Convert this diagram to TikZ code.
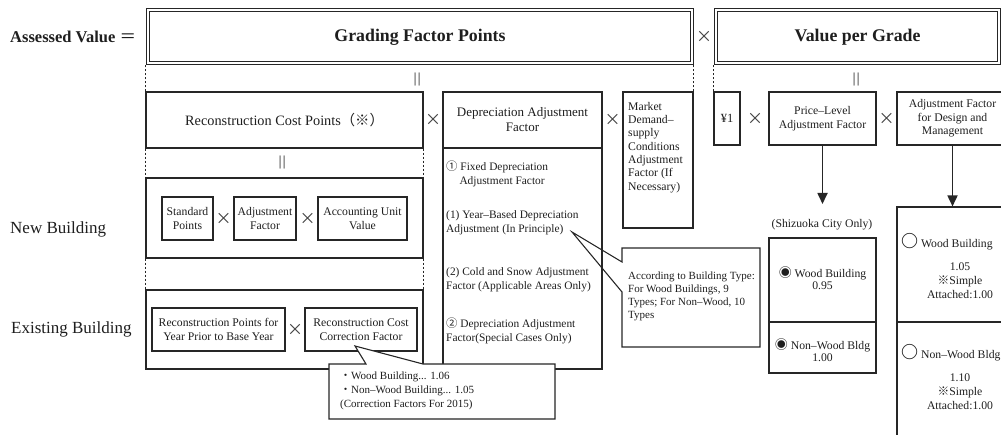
\documentclass[tikz,border=0pt]{standalone}
\usepackage{fontspec}
\setmainfont{Liberation Serif}
\newfontfamily\cjk{Noto Sans CJK JP}
\usetikzlibrary{arrows.meta}
\newcommand\sym[1]{{\cjk #1}}
\newcommand\fsz[2]{\fontsize{#1}{#2}\selectfont}
\definecolor{ink}{HTML}{1E1E1E}
\definecolor{rule}{HTML}{262626}

\begin{document}
\begin{tikzpicture}[x=1pt,y=-1pt,
  every node/.style={text=ink},
  box/.style={draw=rule, line width=1.1pt, inner sep=2pt, align=center},
  dblbox/.style={draw=rule, line width=1pt, double, double distance=2pt, align=center},
  times/.style={font=\cjk\fsz{16}{16}, text=ink!85},
  eqv/.style={font=\cjk\fsz{18}{18}, text=ink!60, rotate=90},
  dots/.style={draw=rule, line width=1.1pt, dash pattern=on 2.4pt off 1.6pt},
  arr/.style={draw=rule, line width=1.7pt, -{Triangle[width=10pt,length=11pt]}},
  lbl/.style={anchor=west, inner sep=0pt},
  callout/.style={draw=rule, line width=1.1pt, line join=miter},
  small/.style={font=\fsz{11.7}{13.7}},
  body/.style={anchor=west, inner sep=0pt, align=left, font=\fsz{11.4}{14}}
]
\useasboundingbox (0,0) rectangle (1001,435);

% ---------- top row ----------
\node[lbl, font=\bfseries\fsz{16.5}{18}] (av) at (10,37) {Assessed Value \sym{\mdseries ＝}};
\node[dblbox, minimum width=544pt, minimum height=53pt, font=\bfseries\fsz{17.8}{20}] (gfp) at (420,37) {Grading Factor Points};
\node[times] (x0) at (704,37) {×};
\node[dblbox, minimum width=283pt, minimum height=53pt, font=\bfseries\fsz{17.8}{20}] (vpg) at (857.5,37) {Value per Grade};
\coordinate (gfpb) at (420,65.5);

% ---------- second row ----------
\node[box, minimum width=277pt, minimum height=56pt, font=\fsz{14.3}{16}] (rcp) at (284.5,120) {Reconstruction Cost Points\sym{（※）}};
\node[times] (x1) at (433,120) {×};
\node[box, minimum width=159pt, minimum height=56pt, font=\fsz{13}{15}] (deph) at (522.5,120) {Depreciation Adjustment\\Factor};
\node[box, minimum width=159pt, minimum height=221pt] (depb) at (522.5,258.5) {};
\node[times] (x2) at (612.5,120) {×};
\node[box, minimum width=70pt, minimum height=136pt] (mkt) at (658,160) {};
\node[anchor=north west, inner sep=0pt, align=left, font=\fsz{11.7}{13.3}] (mktt) at (628,102)
  {Market\\Demand–\\supply\\Conditions\\Adjustment\\Factor (If\\Necessary)};
\node[box, minimum width=26pt, minimum height=53pt, font=\fsz{12.5}{14}] (yen) at (727,118.5) {¥1};
\node[times] (x3) at (755,118.5) {×};
\node[box, small, minimum width=107pt, minimum height=53pt] (plv) at (822.5,118.5) {Price–Level\\Adjustment Factor};
\node[times] (x4) at (886.5,118.5) {×};
\node[box, small, minimum width=111pt, minimum height=53pt] (dsn) at (952.5,118.5) {Adjustment Factor\\for Design and\\Management};

% dotted links and equivalence marks
\draw[dots] (rcp.north west) -- (rcp.north west |- gfpb);
\draw[dots] (mkt.north east) -- (mkt.north east |- gfpb);
\draw[dots] (yen.north west) -- (yen.north west |- gfpb);
\node[eqv] (e1) at (420,80) {＝};
\node[eqv] (e2) at (859,80) {＝};

% ---------- new building ----------
\node[box, minimum width=277pt, minimum height=80pt] (nb) at (284.5,218) {};
\draw[dots] (rcp.south west) -- (nb.north west);
\draw[dots] (rcp.south east) -- (nb.north east);
\node[eqv] (e3) at (285,163) {＝};
\node[box, small, minimum width=51pt, minimum height=43pt] (sp) at (187.5,218.5) {Standard\\Points};
\node[times] (x5) at (223.5,218.5) {×};
\node[box, small, minimum width=62pt, minimum height=43pt] (af) at (265,218.5) {Adjustment\\Factor};
\node[times] (x6) at (307.5,218.5) {×};
\node[box, small, minimum width=89pt, minimum height=43pt] (auv) at (362.5,218.5) {Accounting Unit\\Value};

% ---------- existing building ----------
\node[box, minimum width=277pt, minimum height=79pt] (eb) at (284.5,329.5) {};
\draw[dots] (nb.south west) -- (eb.north west);
\draw[dots] (nb.south east) -- (eb.north east);
\node[box, small, minimum width=133pt, minimum height=43pt] (rp) at (218.5,329.5) {Reconstruction Points for\\Year Prior to Base Year};
\node[times] (x7) at (295,329.5) {×};
\node[box, small, minimum width=112pt, minimum height=43pt] (rcc) at (361,329.5) {Reconstruction Cost\\Correction Factor};

% row labels
\node[lbl, font=\fsz{17}{19}] (newb) at (10,229) {New Building};
\node[lbl, font=\fsz{17}{19}] (exb) at (11,329) {Existing Building};

% ---------- depreciation details ----------
\node[body] (d1) at (446,174) {\sym{①} Fixed Depreciation\\\hphantom{\sym{①}}\,Adjustment Factor};
\node[body] (d2) at (446,223) {(1) Year–Based Depreciation\\Adjustment (In Principle)};
\node[body] (d3) at (446,279.5) {(2) Cold and Snow Adjustment\\Factor (Applicable Areas Only)};
\node[body] (d4) at (446,331) {\sym{②} Depreciation Adjustment\\Factor(Special Cases Only)};

% ---------- price level column ----------
\coordinate (plvend) at (822.5,204);
\draw[arr] (plv.south) -- (plvend);
\node[small] (shzl) at (822,225) {(Shizuoka City Only)};
\node[box, minimum width=107pt, minimum height=135pt] (shz) at (822.5,305.5) {};
\coordinate (shzdiv) at (822.5,322);
\draw[draw=rule, line width=1.1pt] (shz.west |- shzdiv) -- (shz.east |- shzdiv);
\node[align=center, font=\fsz{11.7}{12.5}] (shzw) at (822.5,278) {\sym{\fsz{13}{13}◉} Wood Building\\0.95};
\node[align=center, font=\fsz{11.7}{12.5}] (shzn) at (822.5,350) {\sym{\fsz{13}{13}◉} Non–Wood Bldg\\1.00};

% ---------- design and management column ----------
\node[box, minimum width=111pt, minimum height=240pt] (dsb) at (952.5,327) {};
\draw[arr] (dsn.south) -- (dsb.north);
\coordinate (dsbdiv) at (952.5,322);
\draw[draw=rule, line width=1.1pt] (dsb.west |- dsbdiv) -- (dsb.east |- dsbdiv);
\node[lbl, font=\fsz{11.7}{13}] (dw) at (901,242) {\sym{\bfseries\fsz{17}{17}○} Wood Building};
\node[align=center, font=\fsz{11.7}{14}] (dwv) at (960,281) {1.05\\\sym{※}Simple\\Attached:1.00};
\node[lbl, font=\fsz{11.7}{13}] (dn) at (901,353) {\sym{\bfseries\fsz{17}{17}○} Non–Wood Bldg};
\node[align=center, font=\fsz{11.7}{14}] (dnv) at (960,392) {1.10\\\sym{※}Simple\\Attached:1.00};

% ---------- callout: building types ----------
\coordinate (c1tl) at (622,248);
\coordinate (c1tr) at (760,248);
\coordinate (c1br) at (760,347);
\coordinate (c1bl) at (622,347);
\coordinate (c1lo) at (622,292);
\coordinate (c1tip) at (572,232);
\coordinate (c1hi) at (622,262);
\draw[callout] (c1tl) -- (c1tr) -- (c1br) -- (c1bl) -- (c1lo) -- (c1tip) -- (c1hi) -- cycle;
\node[anchor=north west, inner sep=0pt, align=left, font=\fsz{11}{13}] (c1t) at (628,272)
  {According to Building Type:\\For Wood Buildings, 9\\Types; For Non–Wood, 10\\Types};

% ---------- callout: correction factors ----------
\coordinate (c2tl) at (329,364);
\coordinate (c2p1) at (366,364);
\coordinate (c2tip) at (355,346);
\coordinate (c2p2) at (423,364);
\coordinate (c2tr) at (555,364);
\coordinate (c2br) at (555,419);
\coordinate (c2bl) at (329,419);
\draw[callout, fill=white] (c2tl) -- (c2p1) -- (c2tip) -- (c2p2) -- (c2tr) -- (c2br) -- (c2bl) -- cycle;
\node[anchor=north west, inner sep=0pt, align=left, font=\fsz{11}{14}] (c2t) at (340,372)
  {\sym{・}Wood Building... 1.06\\\sym{・}Non–Wood Building... 1.05\\(Correction Factors For 2015)};
\end{tikzpicture}
\end{document}
